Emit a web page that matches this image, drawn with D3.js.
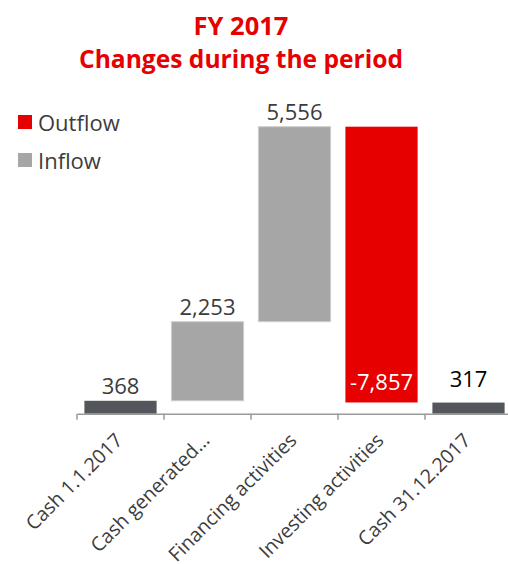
<!DOCTYPE html>
<html><head><meta charset="utf-8">
<script src="https://cdn.jsdelivr.net/npm/d3@7/dist/d3.min.js"></script>
<style>body{margin:0;background:#fff;}svg{display:block;}</style>
</head><body>
<svg id="chart" width="508" height="564"></svg>
<script>
const categories = ["Cash 1.1.2017", "Cash generated\u2026", "Financing activities", "Investing activities", "Cash 31.12.2017"];
const values = [368, 2253, 5556, -7857, 317];
const kinds = ["total", "inflow", "inflow", "outflow", "total"];
const valueLabels = ["368", "2,253", "5,556", "-7,857", "317"];
const legendLabels = ["Outflow", "Inflow"];
const titleLines = ["FY 2017", "Changes during the period"];

const FONT = "'Open Sans', sans-serif";
const colors = {total: "#53565a", inflow: "#a6a6a6", outflow: "#e60000"};

const svg = d3.select("#chart");

// running totals
let run = 0;
const bars = values.map((v, i) => {
  let y0, y1;
  if (kinds[i] === "total") { y0 = 0; y1 = v; run = v; }
  else { y0 = run; y1 = run + v; run = y1; }
  return {cat: categories[i], v, kind: kinds[i], lo: Math.min(y0, y1), hi: Math.max(y0, y1), label: valueLabels[i], i};
});

const x = d3.scaleBand().domain(categories).range([77, 512]).paddingInner(0.17).paddingOuter(0.085);
const y = d3.scaleLinear().domain([0, 10000]).range([413.7, 62.7]);

// title
svg.append("g").selectAll("text").data(titleLines).join("text")
  .attr("x", 241).attr("y", (d, i) => 35 + i * 33)
  .attr("text-anchor", "middle")
  .attr("font-family", FONT).attr("font-weight", 700)
  .attr("font-size", (d, i) => i === 0 ? 25.5 : 24.6)
  .attr("fill", "#e60000")
  .text(d => d);

// legend
const leg = svg.append("g").selectAll("g").data(legendLabels).join("g")
  .attr("transform", (d, i) => `translate(18,${115 + i * 38})`);
leg.append("rect").attr("width", 14).attr("height", 14)
  .attr("fill", (d, i) => i === 0 ? colors.outflow : colors.inflow);
leg.append("text").attr("x", 20).attr("y", 16)
  .attr("font-family", FONT).attr("font-size", 22).attr("fill", "#3c3c3c")
  .text(d => d);

// bars
svg.append("g").selectAll("rect").data(bars).join("rect")
  .attr("x", d => x(d.cat)).attr("width", x.bandwidth())
  .attr("y", d => y(d.hi)).attr("height", d => y(d.lo) - y(d.hi))
  .attr("fill", d => colors[d.kind])
  .attr("stroke", d => d.kind === "inflow" ? "#cfcfcf" : "none")
  .attr("stroke-width", 1);

// value labels
svg.append("g").selectAll("text").data(bars).join("text")
  .attr("x", d => x(d.cat) + x.bandwidth() / 2)
  .attr("y", d => d.kind === "outflow" ? y(d.lo) - 12 : y(d.hi) - (d.i === bars.length - 1 ? 16 : 7))
  .attr("text-anchor", "middle")
  .attr("font-family", FONT).attr("font-size", 22)
  .attr("fill", d => d.kind === "outflow" ? "#ffffff" : (d.i === bars.length - 1 ? "#000000" : "#3c3c3c"))
  .text(d => d.label);

// x axis
const axis = d3.axisBottom(x).tickSize(0).tickPadding(0);
const gx = svg.append("g").attr("transform", `translate(0,${y(0)})`).call(axis);
gx.select(".domain").attr("stroke", "#9a9a9a").attr("stroke-width", 1.5);
gx.selectAll(".tick text")
  .attr("font-family", FONT).attr("font-size", 19.6).attr("fill", "#3c3c3c")
  .attr("text-anchor", "end")
  .attr("transform", "translate(-1.5,23) rotate(-45)")
  .attr("dy", "0.35em");
// boundary ticks
const gap = (x.step() - x.bandwidth()) / 2;
const bounds = categories.map(c => x(c) - gap).concat([x(categories[categories.length - 1]) + x.bandwidth() + gap]);
gx.append("g").selectAll("line").data(bounds).join("line")
  .attr("x1", d => d).attr("x2", d => d).attr("y1", 0).attr("y2", 6)
  .attr("stroke", "#9a9a9a").attr("stroke-width", 1.5);
</script>
</body></html>
